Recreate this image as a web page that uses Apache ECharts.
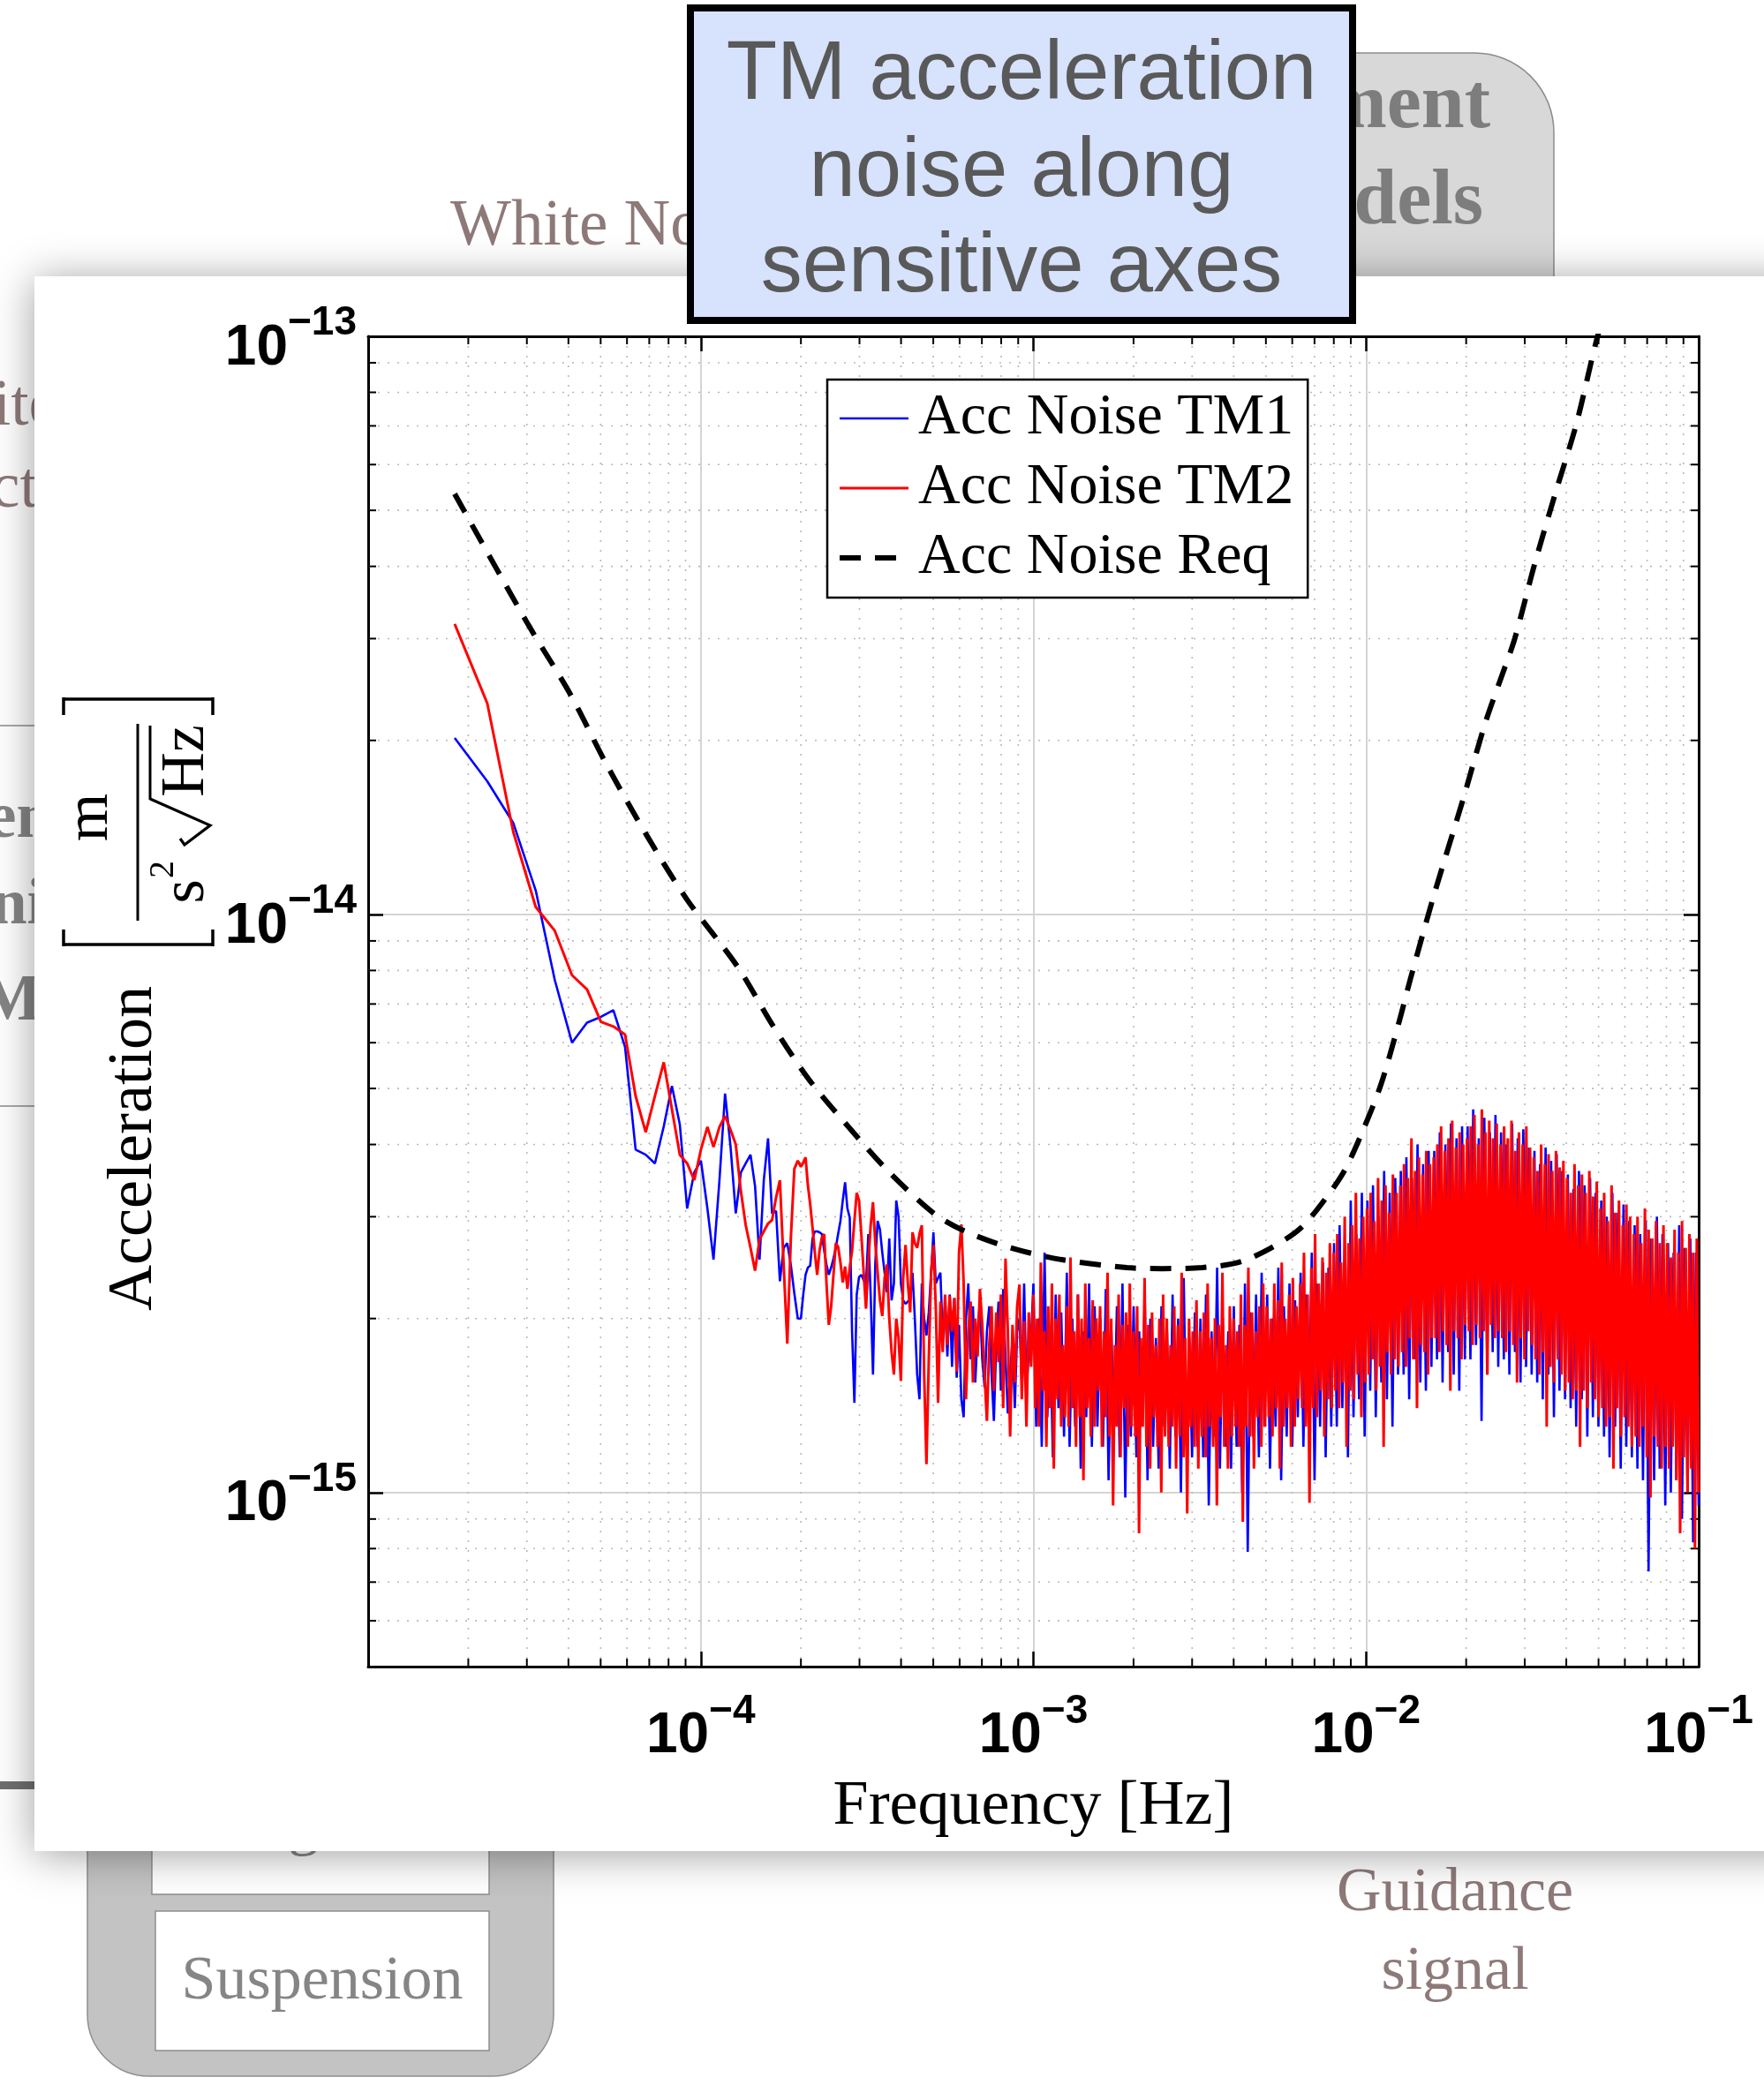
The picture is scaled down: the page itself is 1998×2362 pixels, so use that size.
<!DOCTYPE html>
<html>
<head>
<meta charset="utf-8">
<script src="https://cdn.jsdelivr.net/npm/echarts@6/dist/echarts.min.js"></script>
<style>
  html, body { margin: 0; padding: 0; background: #ffffff; }
  #chart { width: 1998px; height: 2362px; }
</style>
</head>
<body>
<div id="chart"></div>
<script>
// Test-mass acceleration noise ASD. All amplitudes are in units of 1e-15 m s^-2 Hz^-1/2.
const UNIT = 1e-15;

// Lowest frequency bins (micro-Hz), individually resolved
const lowFreqMicroHz = [18.2, 22.8, 27.3, 31.9, 36.4, 41.0, 45.5, 50.1, 54.6, 59.2,
  63.7, 68.3, 72.8, 77.4, 81.9, 86.5, 91.0, 95.6, 100.1, 104.7,
  109.2, 113.8, 118.3, 122.9, 127.4, 132.0, 136.5, 141.1, 145.6, 150.2,
  154.7, 159.3, 163.8, 168.4, 172.9, 177.5, 182.0, 186.6, 191.1, 195.7];

const tm1Low = [20.2, 17.0, 14.4, 11.0, 7.7, 6.0, 6.5, 6.65, 6.83, 5.9,
  3.92, 3.84, 3.71, 4.3, 5.05, 4.33, 3.10, 3.58, 3.75, 3.10,
  2.53, 3.47, 4.9, 3.96, 3.04, 3.58, 3.71, 3.84, 3.39, 2.53,
  3.47, 4.1, 3.04, 3.07, 2.32, 2.65, 2.70, 2.47, 2.21, 2.0];

const tm2Low = [31.8, 23.2, 13.9, 10.3, 9.37, 7.85, 7.42, 6.52, 6.4, 6.2,
  4.85, 4.2, 4.85, 5.55, 4.6, 3.84, 3.71, 3.47, 3.92, 4.29,
  3.96, 4.29, 4.48, 4.24, 4.0, 3.32, 2.90, 2.65, 2.42, 2.74,
  2.83, 2.92, 2.96, 3.24, 3.47, 2.47, 1.81, 2.77, 3.63, 3.75];

// Readings spaced evenly in log-frequency over [start, end)
const midBand = [2.0e-4, 1.0e-3];
const tm1Mid = [2.00, 2.20, 2.38, 2.45, 2.47, 2.75, 2.83, 2.83, 2.82, 2.80,
  2.62, 2.48, 2.38, 2.45, 2.54, 2.65, 2.80, 2.95, 3.20, 3.44,
  3.10, 2.99, 1.90, 1.43, 2.20, 2.36, 2.38, 2.33, 2.29, 2.80,
  2.20, 1.60, 2.50, 2.95, 2.85, 2.60, 2.40, 2.22, 2.75, 2.15,
  2.30, 3.20, 3.00, 2.30, 2.15, 2.12, 2.14, 2.16, 2.40, 2.00,
  1.60, 1.45, 2.30, 2.00, 1.87, 2.05, 2.40, 2.82, 2.30, 2.35,
  2.40, 1.85, 2.10, 1.72, 2.20, 1.65, 2.17, 1.58, 1.95, 1.45,
  1.35, 2.00, 2.30, 1.70, 2.10, 1.55, 1.90, 2.14, 1.70, 1.52,
  1.90, 2.10, 1.60, 1.33, 1.80, 2.14, 1.50, 2.25, 1.70, 1.37,
  1.60, 1.85, 1.40, 1.90, 2.00, 1.55, 2.30, 1.50, 1.75, 1.85];
const tm2Mid = [3.66, 3.72, 3.80, 3.40, 3.15, 2.87, 2.60, 2.38, 2.62, 2.76,
  2.80, 2.30, 1.95, 2.10, 2.38, 2.70, 2.66, 2.50, 2.31, 2.46,
  2.25, 2.45, 2.62, 2.95, 3.30, 3.20, 2.79, 2.40, 2.08, 2.50,
  2.90, 3.18, 2.70, 2.40, 2.15, 2.02, 2.35, 2.48, 2.00, 1.75,
  1.60, 2.00, 1.85, 1.56, 2.35, 2.68, 2.30, 2.05, 2.82, 2.70,
  2.65, 2.80, 2.90, 1.60, 1.12, 1.70, 2.40, 2.68, 2.10, 1.43,
  2.14, 1.75, 2.20, 1.80, 2.19, 1.90, 2.17, 1.62, 2.60, 2.91,
  2.30, 1.45, 1.90, 2.14, 1.55, 2.00, 1.72, 2.25, 1.95, 1.60,
  1.33, 1.80, 2.10, 1.50, 2.05, 1.68, 2.20, 1.40, 2.54, 1.90,
  1.25, 1.95, 1.55, 2.10, 2.29, 1.45, 1.98, 1.30, 2.05, 1.65];

// Dense part of the spectrum, readings spaced evenly in log-frequency over [start, end]
const denseBand = [1.0e-3, 1.0e-1];
const tm1Dense = [
  2.3,1.3,2.0,1.2,2.6,1.35,1.9,1.15,2.2,1.4,2.05,1.25,
  2.4,1.2,2.0,1.3,2.2,1.1,1.9,1.35,2.3,1.2,2.1,1.3,
  2.0,1.2,2.25,1.05,1.9,1.3,2.1,1.15,2.3,0.98,1.95,1.25,
  2.1,1.15,1.9,1.3,2.2,1.05,2.0,1.2,1.85,1.1,2.1,1.3,
  1.9,1.1,2.2,1.25,2.0,1.0,2.35,1.2,1.85,1.15,2.05,1.2,
  2.0,1.15,2.2,0.95,1.9,1.25,2.45,1.1,2.0,1.2,1.9,1.1,
  2.1,1.2,1.95,1.0,2.3,0.79,2.05,1.25,2.2,1.15,2.4,1.3,
  2.2,1.1,2.0,1.3,2.45,1.05,2.1,1.25,2.3,1.2,2.15,1.35,
  2.4,1.2,2.2,1.35,2.6,1.05,2.3,1.3,2.5,1.15,2.45,1.3,
  2.7,1.3,2.9,1.4,2.6,1.15,3.2,1.35,2.8,1.45,3.3,1.25,
  3.2,1.5,3.4,1.35,3.0,1.55,3.6,1.45,3.3,1.3,3.5,1.6,
  3.6,1.6,3.8,1.45,3.5,1.7,4.0,1.55,3.7,1.5,3.9,1.65,
  3.9,1.7,4.2,1.55,4.0,1.75,4.35,1.6,4.1,1.5,4.3,1.7,
  4.3,1.7,4.6,1.8,4.1,1.33,4.45,1.6,4.2,1.75,4.5,1.65,
  4.2,1.7,4.0,1.6,4.35,1.75,4.1,1.55,4.25,1.65,3.95,1.6,
  3.9,1.55,3.7,1.45,3.95,1.6,3.75,1.35,3.85,1.5,3.6,1.45,
  3.55,1.4,3.35,1.3,3.6,1.45,3.4,1.25,3.5,1.35,3.3,1.3,
  3.2,1.25,3.0,1.15,3.3,1.3,3.05,1.1,3.15,1.2,2.95,1.15,
  2.9,1.1,2.8,1.05,2.95,0.73,2.75,1.05,3.0,1.1,2.8,0.95,
  2.7,1.0,2.6,1.05,2.9,0.9,2.65,1.0,2.75,0.82,2.6,0.95];
const tm2Dense = [
  2.2,1.4,2.0,1.3,2.5,1.5,1.9,1.2,2.1,1.4,2.3,1.1,2.0,1.45,2.2,1.3,1.8,1.35,
  2.1,1.3,2.55,1.4,1.9,1.2,2.2,1.35,2.0,1.05,2.3,1.4,1.85,1.25,2.15,1.3,2.0,1.5,
  2.1,1.2,1.9,1.35,2.4,1.25,2.0,0.95,1.8,1.3,2.2,1.15,1.95,1.4,2.05,1.2,2.3,1.3,
  1.9,1.25,2.1,0.85,1.85,1.3,2.35,1.2,1.95,1.1,2.05,1.35,1.8,1.2,2.0,1.0,2.2,1.25,
  2.0,1.2,1.8,1.3,2.1,1.1,1.95,1.25,2.4,1.15,1.85,0.92,2.0,1.3,1.9,1.2,2.15,1.1,
  1.9,1.25,2.05,1.15,2.3,1.3,1.85,1.2,2.0,0.95,1.95,1.35,2.4,1.2,1.8,1.1,2.1,1.25,
  2.0,1.3,1.9,1.2,2.2,0.89,1.95,1.3,2.45,1.25,2.05,1.1,1.9,1.35,2.1,1.2,2.3,1.3,
  2.1,1.35,2.0,1.25,2.3,1.4,2.15,1.1,2.5,1.3,2.0,1.4,2.2,1.2,2.35,1.3,2.1,1.45,
  2.3,1.4,2.6,1.3,2.2,0.96,2.45,1.4,2.8,1.35,2.3,1.5,2.55,1.25,2.4,1.45,2.7,1.4,
  2.6,1.5,2.8,1.4,2.5,1.55,3.0,1.2,2.7,1.5,2.9,1.45,3.3,1.6,2.75,1.35,3.0,1.55,
  3.1,1.6,3.3,1.7,2.95,1.5,3.5,1.65,3.2,1.2,3.4,1.75,3.05,1.6,3.55,1.7,3.3,1.65,
  3.4,1.75,3.7,1.65,3.5,1.85,4.1,1.7,3.6,1.4,3.8,1.8,3.55,1.75,3.9,1.6,3.7,1.85,
  3.8,1.85,4.0,1.75,4.3,1.9,3.9,1.8,4.1,1.5,4.4,1.9,3.95,1.85,4.2,1.7,4.0,1.95,
  4.1,1.9,4.3,1.8,4.5,1.95,4.0,1.85,4.6,1.9,4.2,1.6,4.4,1.95,4.1,1.85,4.35,1.9,
  4.0,1.85,4.3,1.75,4.1,1.9,4.4,1.8,3.9,1.55,4.2,1.85,4.0,1.7,4.3,1.9,3.95,1.8,
  3.8,1.7,3.6,1.6,4.0,1.75,3.7,1.3,3.85,1.65,3.6,1.55,3.9,1.7,3.65,1.6,3.75,1.5,
  3.5,1.55,3.3,1.45,3.7,1.5,3.4,1.2,3.55,1.5,3.3,1.4,3.6,1.55,3.25,1.45,3.45,1.35,
  3.1,1.4,3.3,1.3,2.95,1.35,3.4,1.1,3.05,1.4,3.2,1.25,2.9,1.35,3.15,1.3,3.0,1.2,
  2.8,1.25,3.0,1.2,2.7,1.3,3.1,1.15,2.85,0.98,2.75,1.25,2.95,1.2,2.7,1.1,2.9,1.2,
  2.7,1.1,2.55,1.2,2.85,1.05,2.6,0.85,2.95,1.15,2.65,1.0,2.8,1.1,2.6,0.8,2.75,1.0];

// Requirement curve
const reqFreq = [1.82e-5, 3.02e-5, 4.06e-5, 5.2e-5, 6.88e-5, 9.1e-5, 1.29e-4, 1.65e-4, 2.11e-4, 2.79e-4,
  3.69e-4, 5.06e-4, 6.24e-4, 8.55e-4, 1.21e-3, 1.91e-3, 2.44e-3, 3.22e-3, 4.13e-3, 5.13e-3,
  6.37e-3, 7.66e-3, 8.67e-3, 9.82e-3, 1.11e-2, 1.26e-2, 1.36e-2, 1.6e-2, 1.96e-2, 2.28e-2,
  2.58e-2, 2.8e-2, 3.21e-2, 3.7e-2, 4.29e-2, 4.95e-2, 5.3e-2];
const reqValue = [53.4, 31.8, 24.0, 18.2, 13.7, 10.6, 8.12, 6.41, 5.19, 4.28,
  3.58, 3.03, 2.83, 2.65, 2.53, 2.45, 2.44, 2.45, 2.50, 2.64,
  2.87, 3.26, 3.63, 4.25, 5.09, 6.55, 7.74, 10.8, 15.85, 21.4,
  26.2, 30.0, 40.3, 53.3, 70.6, 99.3, 112];

const seriesNames = ['Acc Noise TM1', 'Acc Noise TM2', 'Acc Noise Req'];
const xRange = [1e-5, 1e-1];
const yRange = [5e-16, 1e-13];
const xMinorTicks = [];
for (let e = -5; e <= -2; e++) for (let m = 2; m <= 9; m++) xMinorTicks.push(m * Math.pow(10, e));
const yMinorTicks = [6e-16, 7e-16, 8e-16, 9e-16];
for (let e = -15; e <= -14; e++) for (let m = 2; m <= 9; m++) yMinorTicks.push(m * Math.pow(10, e));

// ---------------------------------------------------------------------------
function logGrid(range, n, inclusive) {
  const a = Math.log10(range[0]), b = Math.log10(range[1]);
  const step = (b - a) / (inclusive ? n - 1 : n);
  const out = [];
  for (let i = 0; i < n; i++) out.push(Math.pow(10, a + i * step));
  return out;
}
function buildSpectrum(low, mid, dense) {
  const pts = [];
  lowFreqMicroHz.forEach((f, i) => pts.push([f * 1e-6, low[i] * UNIT]));
  logGrid(midBand, mid.length, false).forEach((f, i) => pts.push([f, mid[i] * UNIT]));
  logGrid(denseBand, dense.length, true).forEach((f, i) => pts.push([f, dense[i] * UNIT]));
  return pts;
}
const tm1Points = buildSpectrum(tm1Low, tm1Mid, tm1Dense);
const tm2Points = buildSpectrum(tm2Low, tm2Mid, tm2Dense);
const reqPoints = reqFreq.map((f, i) => [f, reqValue[i] * UNIT]);

const SERIF = '"Liberation Serif", "Times New Roman", serif';
const SANS = '"Liberation Sans", Arial, sans-serif';

// Decade labels written as 10 with a raised exponent
function powerLabel(skipValue) {
  return function (v) {
    const e = Math.log10(v);
    const r = Math.round(e);
    if (Math.abs(e - r) > 1e-6) return '';
    if (skipValue && Math.abs(v - skipValue) / skipValue < 1e-6) return '';
    return '{b|10}{s|' + (r < 0 ? '\u2212' + (-r) : r) + '}';
  };
}
const tickRich = {
  b: { fontFamily: SANS, fontWeight: 'bold', fontSize: 64, lineHeight: 103, color: '#000' },
  s: { fontFamily: SANS, fontWeight: 'bold', fontSize: 46, lineHeight: 46, verticalAlign: 'top', color: '#000' }
};

function renderMinorX(params, api) {
  const cs = params.coordSys;
  const x = api.coord([api.value(0), api.value(1)])[0];
  const top = cs.y, bottom = cs.y + cs.height;
  return { type: 'group', children: [
    { type: 'line', shape: { x1: x, y1: top, x2: x, y2: bottom }, style: { stroke: '#b9b9b9', lineWidth: 1.6, lineDash: [2, 9] } },
    { type: 'line', shape: { x1: x, y1: bottom, x2: x, y2: bottom - 9 }, style: { stroke: '#000', lineWidth: 2 } },
    { type: 'line', shape: { x1: x, y1: top, x2: x, y2: top + 9 }, style: { stroke: '#000', lineWidth: 2 } }
  ] };
}
function renderMinorY(params, api) {
  const cs = params.coordSys;
  const y = api.coord([api.value(0), api.value(1)])[1];
  const left = cs.x, right = cs.x + cs.width;
  return { type: 'group', children: [
    { type: 'line', shape: { x1: left, y1: y, x2: right, y2: y }, style: { stroke: '#b9b9b9', lineWidth: 1.6, lineDash: [2, 9] } },
    { type: 'line', shape: { x1: left, y1: y, x2: left + 9, y2: y }, style: { stroke: '#000', lineWidth: 2 } },
    { type: 'line', shape: { x1: right, y1: y, x2: right - 9, y2: y }, style: { stroke: '#000', lineWidth: 2 } }
  ] };
}

// Plain text placed by its baseline
function txt(text, x, baseline, size, o) {
  o = o || {};
  return {
    type: 'text', x: x, y: baseline - 0.34 * size, z: o.z !== undefined ? o.z : -10,
    style: {
      text: text, font: (o.weight || 'normal') + ' ' + size + 'px ' + (o.family || SERIF),
      fill: o.color || '#000', textAlign: o.align || 'left', textVerticalAlign: 'middle',
      align: o.align || 'left', verticalAlign: 'middle'
    }
  };
}
// Text turned to read bottom-to-top; baselineX is the screen x of its baseline
function rtxt(text, baselineX, centerY, size) {
  return {
    type: 'text', x: baselineX - 0.34 * size, y: centerY, rotation: Math.PI / 2, z: 10,
    style: {
      text: text, font: size + 'px ' + SERIF, fill: '#000',
      textAlign: 'center', textVerticalAlign: 'middle', align: 'center', verticalAlign: 'middle'
    }
  };
}
function seg(x1, y1, x2, y2, w, color, z) {
  return { type: 'line', z: z, shape: { x1, y1, x2, y2 }, style: { stroke: color, lineWidth: w } };
}

const brown = '#8e7979';
const grayText = '#858585';
const backdrop = [
  txt('White Noise', 510, 283, 73, { color: brown }),
  txt('ite', -8, 487, 73, { color: brown }),
  txt('ctu', -10, 580, 73, { color: brown }),
  seg(0, 822, 45, 822, 2, '#a8a8a8', -10),
  txt('en', -14, 954, 73, { color: grayText, weight: 'bold' }),
  txt('ni', -10, 1052, 73, { color: grayText, weight: 'bold' }),
  txt('MI', -22, 1161, 73, { color: grayText, weight: 'bold' }),
  seg(0, 1253, 45, 1253, 2, '#a8a8a8', -10),
  { type: 'rect', z: -10, shape: { x: 0, y: 2018, width: 45, height: 9 }, style: { fill: '#707070' } },
  { type: 'rect', z: -10, shape: { x: 1400, y: 60, width: 360, height: 300, r: [0, 90, 0, 0] },
    style: { fill: '#d8d8d8', stroke: '#8c8c8c', lineWidth: 1.5 } },
  txt('ment', 1688, 151, 88, { color: '#7d7d7d', weight: 'bold', align: 'right' }),
  txt('dels', 1680, 260, 88, { color: '#7d7d7d', weight: 'bold', align: 'right' }),
  { type: 'rect', z: -10, shape: { x: 99, y: 1980, width: 528, height: 372, r: [0, 0, 70, 70] },
    style: { fill: '#c3c3c3', stroke: '#8f8f8f', lineWidth: 1.5 } },
  { type: 'rect', z: -9, shape: { x: 172, y: 1990, width: 382, height: 156 },
    style: { fill: '#fff', stroke: '#8f8f8f', lineWidth: 1.5 } },
  txt('Magnet', 233, 2093, 70, { color: grayText, z: -8 }),
  { type: 'rect', z: -9, shape: { x: 176, y: 2165, width: 378, height: 158 },
    style: { fill: '#fff', stroke: '#8f8f8f', lineWidth: 1.5 } },
  txt('Suspension', 365, 2269, 70, { color: grayText, align: 'center', z: -8 }),
  txt('Guidance', 1648, 2169, 70, { color: brown, align: 'center' }),
  txt('signal', 1648, 2258, 70, { color: brown, align: 'center' }),
  // white panel holding the plot
  { type: 'rect', z: -5, shape: { x: 39, y: 313, width: 2010, height: 1784 },
    style: { fill: '#ffffff', shadowBlur: 45, shadowColor: 'rgba(0,0,0,0.38)', shadowOffsetY: 4 } }
];

const titleBox = [
  { type: 'rect', z: 10, shape: { x: 782, y: 9, width: 750, height: 354 },
    style: { fill: '#d7e2fc', stroke: '#000', lineWidth: 8 } },
  txt('TM acceleration', 1157, 118, 94, { family: SANS, color: '#595959', align: 'center', z: 11 }),
  txt('noise along', 1157, 228, 94, { family: SANS, color: '#595959', align: 'center', z: 11 }),
  txt('sensitive axes', 1157, 336, 94, { family: SANS, color: '#595959', align: 'center', z: 11 })
];

// Vertical axis title: Acceleration [ m / (s^2 sqrt(Hz)) ]
const yTitle = [
  rtxt('Acceleration', 177, 1301, 72),
  seg(72, 792, 241, 792, 3.5, '#000', 10), seg(72, 790, 72, 810, 3.5, '#000', 10), seg(241, 790, 241, 810, 3.5, '#000', 10),
  seg(72, 1070, 241, 1070, 3.5, '#000', 10), seg(72, 1072, 72, 1053, 3.5, '#000', 10), seg(241, 1072, 241, 1053, 3.5, '#000', 10),
  rtxt('m', 126, 926, 70),
  seg(156, 820, 156, 1043, 3, '#000', 10),
  rtxt('s', 235, 1010, 70),
  rtxt('2', 199, 985, 40),
  seg(170, 822, 170, 906, 3, '#000', 10),
  { type: 'polyline', z: 10, shape: { points: [[170, 905], [238, 935], [209, 957], [204, 950]] },
    style: { stroke: '#000', lineWidth: 3.2, fill: null } },
  rtxt('Hz', 235, 862, 70)
];

const chart = echarts.init(document.getElementById('chart'), null, { renderer: 'canvas', width: 1998, height: 2362 });

const frameAxisLine = { show: true, onZero: false, lineStyle: { color: '#000', width: 3 } };
const majorTick = { show: true, inside: true, length: 17, lineStyle: { color: '#000', width: 2.5 } };

chart.setOption({
  animation: false,
  backgroundColor: '#ffffff',
  grid: { left: 417, top: 381, width: 1507, height: 1507, containLabel: false },
  legend: {
    data: seriesNames, orient: 'vertical', left: 937, top: 430, z: 20,
    padding: [11, 16, 12, 11], itemGap: 13, itemWidth: 78, itemHeight: 20,
    backgroundColor: '#ffffff', borderColor: '#000', borderWidth: 2.5, borderRadius: 0,
    selectedMode: false,
    itemStyle: { color: 'rgba(0,0,0,0)', borderWidth: 0, opacity: 0 },
    lineStyle: { width: 'inherit' },
    textStyle: { fontFamily: SERIF, fontSize: 66, lineHeight: 66, color: '#000', padding: [0, 0, 0, 6] }
  },
  xAxis: [
    { type: 'log', logBase: 10, min: xRange[0], max: xRange[1], position: 'bottom',
      axisLine: frameAxisLine, axisTick: majorTick,
      axisLabel: { formatter: powerLabel(xRange[0]), rich: tickRich, margin: 28 },
      splitLine: { show: true, lineStyle: { color: '#d4d4d4', width: 2 } },
      name: 'Frequency [Hz]', nameLocation: 'middle', nameGap: 123,
      nameTextStyle: { fontFamily: SERIF, fontSize: 72, color: '#000' } },
    { type: 'log', logBase: 10, min: xRange[0], max: xRange[1], position: 'top',
      axisLine: frameAxisLine, axisTick: majorTick, axisLabel: { show: false }, splitLine: { show: false } }
  ],
  yAxis: [
    { type: 'log', logBase: 10, min: yRange[0], max: yRange[1], position: 'left',
      axisLine: frameAxisLine, axisTick: majorTick,
      axisLabel: { formatter: powerLabel(null), rich: tickRich, margin: 13, padding: [28, 0, 0, 0] },
      splitLine: { show: true, lineStyle: { color: '#d4d4d4', width: 2 } } },
    { type: 'log', logBase: 10, min: yRange[0], max: yRange[1], position: 'right',
      axisLine: frameAxisLine, axisTick: majorTick, axisLabel: { show: false }, splitLine: { show: false } }
  ],
  graphic: { elements: backdrop.concat(titleBox, yTitle) },
  series: [
    { type: 'custom', name: 'minor-x', coordinateSystem: 'cartesian2d', silent: true, z: 1,
      data: xMinorTicks.map(v => [v, 1e-14]), renderItem: renderMinorX },
    { type: 'custom', name: 'minor-y', coordinateSystem: 'cartesian2d', silent: true, z: 1,
      data: yMinorTicks.map(v => [1e-3, v]), renderItem: renderMinorY },
    { type: 'line', name: seriesNames[0], data: tm1Points, symbol: 'none', z: 3,
      lineStyle: { color: '#0000ff', width: 2.6 }, itemStyle: { color: '#0000ff' } },
    { type: 'line', name: seriesNames[1], data: tm2Points, symbol: 'none', z: 4,
      lineStyle: { color: '#ff0000', width: 3 }, itemStyle: { color: '#ff0000' } },
    { type: 'line', name: seriesNames[2], data: reqPoints, symbol: 'none', z: 5, smooth: 0.3,
      lineStyle: { color: '#000', width: 6, type: [24, 16] }, itemStyle: { color: '#000' } }
  ]
});
</script>
</body>
</html>
